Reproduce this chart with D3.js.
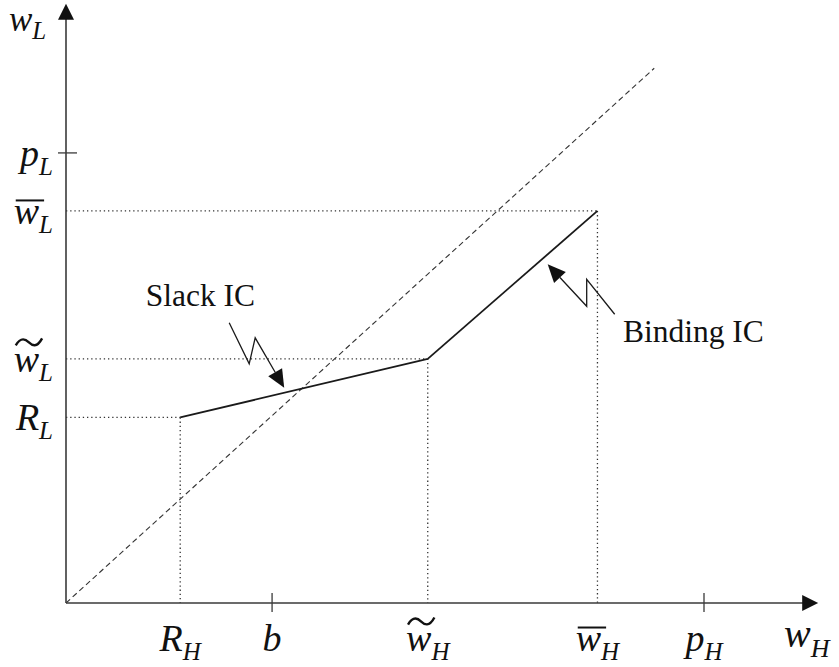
<!DOCTYPE html>
<html><head><meta charset="utf-8">
<script src="https://cdn.jsdelivr.net/npm/d3@7/dist/d3.min.js"></script>
<style>body{margin:0;background:#fff} svg{display:block}</style>
</head><body>
<svg id="c" width="839" height="667"></svg>
<script>
// ---- data (chart units) ----
const xLabelNames   = ["R", "b", "w", "w", "p"];
const xLabelSubs    = ["H", "", "H", "H", "H"];
const xLabelAccents = ["", "", "tilde", "bar", ""];
const xTickValues   = [17.9, 32.3, 56.7, 83.3, 100];

const yLabelNames   = ["p", "w", "w", "R"];
const yLabelSubs    = ["L", "L", "L", "L"];
const yLabelAccents = ["", "bar", "tilde", ""];
const yTickValues   = [77.6, 67.6, 42.1, 32.0];

const slackIC   = [[17.9, 32.0], [56.7, 42.1]];
const bindingIC = [[56.7, 42.1], [83.3, 67.6]];
const diagonal  = [[0, 0], [92.2, 92.2]];
const cornerPoints = [[17.9, 32.0], [56.7, 42.1], [83.3, 67.6]];
const plainTicksX = [32.3, 100];
const plainTicksY = [77.6];
const axisEnds = [117.9, 103.3];

const annotationTexts = ["Slack IC", "Binding IC"];
const annotationTextAt = [[12.5, 51.2], [87.3, 45.0]];
const annotationTipAt  = [[34.2, 37.1], [75.5, 58.4]];

// ---- drawing ----
const svg = d3.select("#c");
const x = d3.scaleLinear().domain([0, 100]).range([66, 704]);
const y = d3.scaleLinear().domain([0, 100]).range([603, 23]);
const ink = "#1a1a1a";
const serif = "'Liberation Serif', 'Times New Roman', serif";
const line = d3.line().x(d => x(d[0])).y(d => y(d[1]));

// dotted guides
cornerPoints.forEach(p => {
  svg.append("path").attr("d", line([[0, p[1]], p]))
    .attr("stroke", "#333").attr("stroke-width", 1.3).attr("stroke-dasharray", "1.3,2.9").attr("fill", "none");
  svg.append("path").attr("d", line([p, [p[0], 0]]))
    .attr("stroke", "#333").attr("stroke-width", 1.3).attr("stroke-dasharray", "1.3,2.9").attr("fill", "none");
});

// diagonal
svg.append("path").attr("d", line(diagonal))
  .attr("stroke", "#333").attr("stroke-width", 1.1).attr("stroke-dasharray", "5.5,3.5").attr("fill", "none");

// IC lines
[slackIC, bindingIC].forEach(seg => {
  svg.append("path").attr("d", line(seg))
    .attr("stroke", ink).attr("stroke-width", 1.8).attr("fill", "none");
});

// axes
svg.append("line").attr("x1", x(0)).attr("y1", y(0)).attr("x2", x(axisEnds[0]) - 10).attr("y2", y(0))
  .attr("stroke", "#3a3a3a").attr("stroke-width", 1.6);
svg.append("line").attr("x1", x(0)).attr("y1", y(0)).attr("x2", x(0)).attr("y2", y(axisEnds[1]) + 10)
  .attr("stroke", "#3a3a3a").attr("stroke-width", 1.6);
{
  const tx = x(axisEnds[0]), ty = y(0);
  svg.append("path").attr("d", `M${tx},${ty} L${tx - 16},${ty - 8} L${tx - 16},${ty + 8} Z`).attr("fill", "#111");
  const ux = x(0), uy = y(axisEnds[1]);
  svg.append("path").attr("d", `M${ux},${uy} L${ux - 8},${uy + 16} L${ux + 8},${uy + 16} Z`).attr("fill", "#111");
}

// plain ticks
plainTicksX.forEach(v => {
  svg.append("line").attr("x1", x(v)).attr("x2", x(v)).attr("y1", y(0) - 10).attr("y2", y(0) + 9)
    .attr("stroke", "#3a3a3a").attr("stroke-width", 1.3);
});
plainTicksY.forEach(v => {
  svg.append("line").attr("x1", x(0) - 8).attr("x2", x(0) + 11).attr("y1", y(v)).attr("y2", y(v))
    .attr("stroke", "#3a3a3a").attr("stroke-width", 1.3);
});

// math labels
function mathLabel(px, py, anchor, name, sub, accent, size, subSize, subDy) {
  const t = svg.append("text").attr("x", px).attr("y", py).attr("text-anchor", anchor)
    .attr("font-family", serif).attr("font-style", "italic").attr("fill", "#111");
  t.append("tspan").attr("font-size", size).text(name);
  if (sub) t.append("tspan").attr("font-size", subSize).attr("dy", subDy).text(sub);
  if (accent) {
    const ext = t.node().getExtentOfChar(0);
    const x0 = ext.x + 2, w = ext.width;
    const top = py - 0.46 * size;
    if (accent === "bar") {
      svg.append("line").attr("x1", x0).attr("x2", x0 + w + 3).attr("y1", top - 6).attr("y2", top - 6)
        .attr("stroke", "#111").attr("stroke-width", 2);
    } else {
      const c = top - 12, ww = w + 1;
      svg.append("path")
        .attr("d", `M${x0},${c + 3} C${x0 + ww * 0.2},${c - 6} ${x0 + ww * 0.38},${c - 3} ${x0 + ww * 0.5},${c} C${x0 + ww * 0.62},${c + 3} ${x0 + ww * 0.8},${c + 6} ${x0 + ww},${c - 4}`)
        .attr("stroke", "#111").attr("stroke-width", 2.4).attr("fill", "none");
    }
  }
  return t;
}

xTickValues.forEach((v, i) => {
  mathLabel(x(v), 651, "middle", xLabelNames[i], xLabelSubs[i], xLabelAccents[i], 38, 25, 9);
});
yTickValues.forEach((v, i) => {
  mathLabel(53, y(v) + 13, "end", yLabelNames[i], yLabelSubs[i], yLabelAccents[i], 38, 25, 9);
});
// axis titles
mathLabel(784, 647, "start", "w", "H", "", 40, 26, 10);
mathLabel(9, 31, "start", "w", "L", "", 35, 25, 8);

// annotations
annotationTexts.forEach((s, i) => {
  svg.append("text").attr("x", x(annotationTextAt[i][0])).attr("y", y(annotationTextAt[i][1]))
    .attr("font-family", serif).attr("font-size", 31.5).attr("fill", "#111").text(s);
});

function callout(tip, pts) {
  const tx = x(tip[0]), ty = y(tip[1]);
  const abs = pts.map(p => [tx + p[0], ty + p[1]]);
  const last = abs[abs.length - 1];
  const dx = tx - last[0], dy = ty - last[1], L = Math.hypot(dx, dy);
  const ux = dx / L, uy = dy / L, len = 18, hw = 8;
  const bx = tx - ux * len, by = ty - uy * len;
  svg.append("path").attr("d", d3.line()([...abs, [bx, by]]))
    .attr("stroke", ink).attr("stroke-width", 1.3).attr("fill", "none");
  svg.append("path").attr("d", `M${tx},${ty} L${bx - uy * hw},${by + ux * hw} L${bx + uy * hw},${by - ux * hw} Z`).attr("fill", "#111");
}
callout(annotationTipAt[0], [[-55, -65], [-35, -24], [-29, -50]]);
callout(annotationTipAt[1], [[67, 50], [39, 15], [39, 42]]);
</script>
</body></html>
